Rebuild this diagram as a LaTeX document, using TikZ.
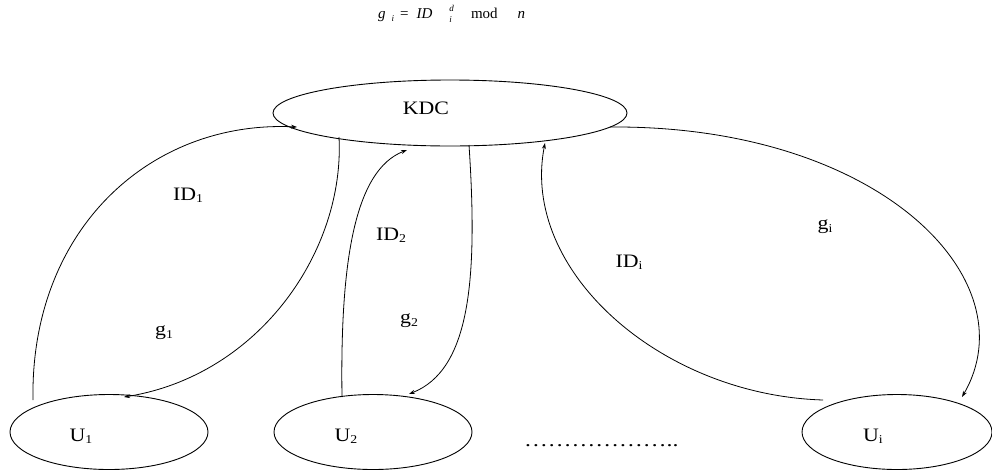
\documentclass[tikz,border=0pt]{standalone}
\usepackage{fontspec}
\usepackage{graphicx}
\setmainfont{Liberation Serif}
\usetikzlibrary{shapes.geometric,arrows.meta}
\newcommand\lowsub[1]{\raisebox{-0.12em}{\fontsize{12}{12}\selectfont #1}}
\newcommand\widetxt[1]{\scalebox{1.15}[1]{#1}}
\begin{document}
\begin{tikzpicture}[x=1pt,y=-1pt,
  ent/.style={draw,ellipse,line width=0.9pt,inner sep=0pt},
  lbl/.style={font=\fontsize{19}{19}\selectfont,inner sep=0pt},
  conn/.style={line width=0.8pt,-{Stealth[length=6pt,width=4pt]}}]
\useasboundingbox (0,0) rectangle (992,472);
% formula
\node[inner sep=0pt,anchor=base west,font=\fontsize{15}{15}\selectfont] (f) at (378,18)
  {\textit{g}\hspace{6pt}\raisebox{-3pt}{\fontsize{9}{9}\selectfont\textit{i}}\hspace{6pt}=\hspace{8pt}\textit{ID}\hspace{17pt}\raisebox{-4pt}{\fontsize{9}{9}\selectfont\shortstack[l]{\textit{d}\\[1pt]\textit{i}}}\hspace{17pt}mod\hspace{20pt}\textit{n}};
% entities
\node[ent,minimum width=354pt,minimum height=66pt] (kdc) at (450,113) {};
\node[ent,minimum width=198pt,minimum height=75pt] (u1) at (109,432) {};
\node[ent,minimum width=198pt,minimum height=75pt] (u2) at (373,432) {};
\node[ent,minimum width=190pt,minimum height=75pt] (ui) at (897,432) {};
\node[lbl] (tkdc) at (426,108) {\widetxt{KDC}};
\node[lbl] (tu1) at (81,436) {\widetxt{U\lowsub{1}}};
\node[lbl] (tu2) at (346,436) {\widetxt{U\lowsub{2}}};
\node[lbl] (tui) at (873,436) {\widetxt{U\lowsub{i}}};
\node[lbl,anchor=base west] (dots) at (524,446) {\scalebox{1.25}[1]{\dots\dots\dots\dots\dots\dots..}};
% connector labels
\node[lbl] (lid1) at (188,195) {\widetxt{ID\lowsub{1}}};
\node[lbl] (lg1) at (164,333) {\widetxt{g\lowsub{1}}};
\node[lbl] (lid2) at (391,235) {\widetxt{ID\lowsub{2}}};
\node[lbl] (lg2) at (409,321) {\widetxt{g\lowsub{2}}};
\node[lbl] (lidi) at (629,262) {\widetxt{ID\lowsub{i}}};
\node[lbl] (lgi) at (825,227) {\widetxt{g\lowsub{i}}};
% connector end points
\coordinate (a1) at (33,400);  \coordinate (a1e) at (297,127);
\coordinate (b1) at (339,137); \coordinate (b1e) at (124,397);
\coordinate (a2) at (342,397); \coordinate (a2e) at (407,150);
\coordinate (b2) at (469,145); \coordinate (b2e) at (409,394);
\coordinate (ai) at (823,400); \coordinate (aie) at (545,143);
\coordinate (bi) at (610,127); \coordinate (bie) at (962,397);
% connectors
\draw[conn] (a1) .. controls (30,230) and (150,120) .. (a1e);
\draw[conn] (b1) .. controls (345,250) and (260,375) .. (b1e);
\draw[conn] (a2) .. controls (340,260) and (355,170) .. (a2e);
\draw[conn] (b2) .. controls (478,280) and (470,370) .. (b2e);
\draw[conn] (ai) .. controls (660,395) and (520,270) .. (aie);
\draw[conn] (bi) .. controls (880,125) and (1030,280) .. (bie);
\end{tikzpicture}
\end{document}
